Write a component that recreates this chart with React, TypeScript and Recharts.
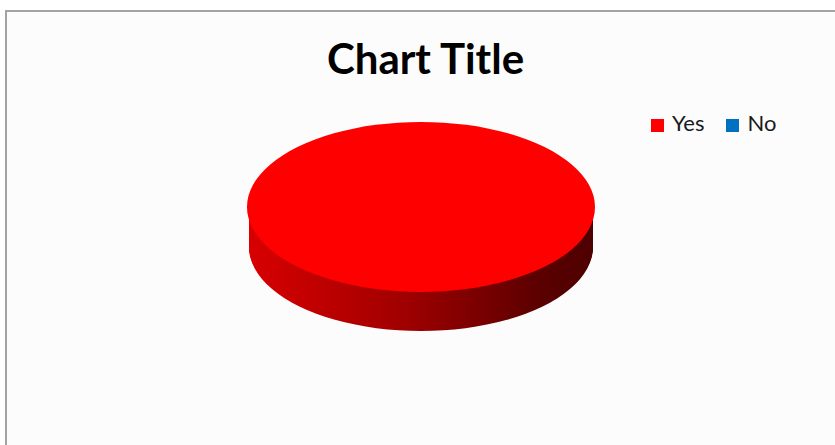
import { PieChart, Pie, Cell, Legend } from 'recharts'

const categories = ['Yes', 'No']
const values = [100, 0]
const topColors = ['#ff0000', '#0070c0']
const sideGradients = [
  ['#d80000', '#a00000', '#5a0000', '#4e0000'],
  ['#0060a8', '#004a80', '#002a4a', '#00223c']
]

const pieData = categories.map((name, i) => ({ name, value: values[i] }))

// the pie is drawn round, then squashed into an ellipse by a css transform
const SQUASH = 0.4885
const RADIUS = 174
const DEPTH = 82
const depthOffsets = Array.from({ length: DEPTH / 2 + 1 }, (_, i) => DEPTH - i * 2)
const noMargin = { top: 0, right: 0, bottom: 0, left: 0 }

export default function App() {
  return (
    <div
      style={{
        position: 'absolute',
        left: 0,
        top: 0,
        width: 835,
        height: 445,
        background: '#ffffff',
        overflow: 'hidden'
      }}
    >
      <div
        style={{
          position: 'absolute',
          left: 5,
          top: 10,
          width: 850,
          height: 460,
          border: '2px solid #a3a3a3',
          background: '#fcfcfc'
        }}
      />
      <div
        style={{
          position: 'absolute',
          left: 0,
          top: 37,
          width: 851,
          textAlign: 'center',
          fontFamily: 'Lato, sans-serif',
          fontWeight: 700,
          fontSize: 42,
          lineHeight: '42px',
          color: '#000'
        }}
      >
        Chart Title
      </div>

      <div style={{ position: 'absolute', left: 0, top: 0 }}>
        <PieChart width={835} height={445} margin={noMargin}>
          <Pie
            data={pieData}
            dataKey="value"
            nameKey="name"
            outerRadius={0}
            stroke="none"
            isAnimationActive={false}
          >
            {pieData.map((d, i) => (
              <Cell key={d.name} fill={topColors[i]} />
            ))}
          </Pie>
          <Legend
            layout="horizontal"
            iconType="square"
            iconSize={13}
            itemSorter={(item: any) => categories.indexOf(item.value)}
            wrapperStyle={{
              left: 651,
              top: 109,
              width: 'auto',
              fontFamily: 'Lato, sans-serif',
              fontSize: 22
            }}
            formatter={(value: any) => (
              <span style={{ color: '#1a1a1a', marginLeft: 4, marginRight: 12 }}>{value}</span>
            )}
          />
        </PieChart>
      </div>

      <div
        style={{
          position: 'absolute',
          left: 421 - 180,
          top: 207 - 180 * SQUASH,
          transform: `scaleY(${SQUASH})`,
          transformOrigin: '0 0'
        }}
      >
        <PieChart width={360} height={442} margin={noMargin}>
          <defs>
            {sideGradients.map((stops, i) => (
              <linearGradient key={i} id={`side-${i}`} x1="0" y1="0" x2="1" y2="0">
                <stop offset="0%" stopColor={stops[0]} />
                <stop offset="45%" stopColor={stops[1]} />
                <stop offset="85%" stopColor={stops[2]} />
                <stop offset="100%" stopColor={stops[3]} />
              </linearGradient>
            ))}
          </defs>
          {depthOffsets.map((off) => (
            <Pie
              key={off}
              data={pieData}
              dataKey="value"
              nameKey="name"
              cx={180}
              cy={180 + off}
              outerRadius={RADIUS - 2}
              startAngle={90}
              endAngle={-270}
              stroke="none"
              legendType="none"
              isAnimationActive={false}
            >
              {pieData.map((d, i) => (
                <Cell key={d.name} fill={`url(#side-${i})`} />
              ))}
            </Pie>
          ))}
          <Pie
            data={pieData}
            dataKey="value"
            nameKey="name"
            cx={180}
            cy={180}
            outerRadius={RADIUS}
            startAngle={90}
            endAngle={-270}
            stroke="none"
            legendType="none"
            isAnimationActive={false}
          >
            {pieData.map((d, i) => (
              <Cell key={d.name} fill={topColors[i]} />
            ))}
          </Pie>
        </PieChart>
      </div>
    </div>
  )
}
